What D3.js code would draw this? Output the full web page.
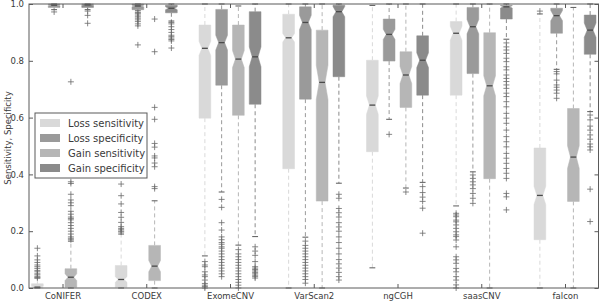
<!DOCTYPE html>
<html>
<head>
<meta charset="utf-8">
<script src="https://cdn.jsdelivr.net/npm/d3@7"></script>
<style>
  html, body { margin: 0; padding: 0; background: #fff; }
  svg { display: block; font-family: "DejaVu Sans", sans-serif; }
</style>
</head>
<body>
<div id="chart"></div>
<script>
// Methods along the x axis and the four series in each group
const methods = ["CoNIFER", "CODEX", "ExomeCNV", "VarScan2", "ngCGH", "saasCNV", "falcon"];
const seriesNames = ["Loss sensitivity", "Loss specificity", "Gain sensitivity", "Gain specificity"];
const seriesColors = ["#d9d9d9", "#9a9a9a", "#b6b6b6", "#8b8b8b"];
const yTicks = [0, 0.2, 0.4, 0.6, 0.8, 1.0];

// Box stats per method: [q1, median, q3, whiskerLow, whiskerHigh, notchHalf]
const lossSensStats = [
  [0.0, 0.003, 0.015, 0.0, 0.035, 0.003],
  [0.003, 0.03, 0.079, 0.0, 0.19, 0.01],
  [0.598, 0.844, 0.926, 0.113, 1.0, 0.025],
  [0.42, 0.881, 0.964, 0.0, 1.0, 0.015],
  [0.48, 0.644, 0.802, 0.071, 0.995, 0.032],
  [0.679, 0.897, 0.938, 0.289, 1.0, 0.025],
  [0.17, 0.326, 0.493, 0.0, 0.965, 0.032]
];
const lossSpecStats = [
  [0.988, 0.996, 1.0, 0.98, 1.0, 0.002],
  [0.98, 0.993, 1.0, 0.976, 1.0, 0.003],
  [0.714, 0.864, 0.981, 0.338, 1.0, 0.026],
  [0.665, 0.935, 0.99, 0.179, 1.0, 0.025],
  [0.799, 0.893, 0.947, 0.594, 1.0, 0.018],
  [0.755, 0.92, 0.988, 0.409, 1.0, 0.025],
  [0.897, 0.959, 0.985, 0.77, 1.0, 0.018]
];
const gainSensStats = [
  [0.003, 0.038, 0.068, 0.0, 0.165, 0.012],
  [0.026, 0.077, 0.15, 0.0, 0.307, 0.02],
  [0.608, 0.806, 0.926, 0.151, 0.993, 0.03],
  [0.306, 0.724, 0.908, 0.0, 1.0, 0.06],
  [0.636, 0.75, 0.832, 0.352, 1.0, 0.03],
  [0.385, 0.712, 0.899, 0.0, 1.0, 0.035],
  [0.305, 0.461, 0.632, 0.0, 0.988, 0.04]
];
const gainSpecStats = [
  [0.988, 0.997, 1.0, 0.98, 1.0, 0.002],
  [0.969, 0.985, 0.996, 0.94, 1.0, 0.005],
  [0.647, 0.814, 0.973, 0.181, 1.0, 0.035],
  [0.744, 0.973, 0.996, 0.369, 1.0, 0.018],
  [0.679, 0.802, 0.888, 0.372, 1.0, 0.026],
  [0.947, 0.99, 0.995, 0.876, 1.0, 0.004],
  [0.823, 0.908, 0.961, 0.621, 1.0, 0.025]
];

// Outliers per method
const lossSensFliers = [
  [0.036, 0.04, 0.046, 0.05, 0.057, 0.062, 0.069, 0.075, 0.081, 0.09, 0.099, 0.113, 0.14],
  [0.197, 0.2, 0.205, 0.21, 0.216, 0.231, 0.249, 0.266, 0.296, 0.325, 0.366],
  [0.093, 0.081, 0.075, 0.057, 0.046, 0.04, 0.028, 0.016, 0.01, 0.005, 0.0],
  [],
  [],
  [0.263, 0.257, 0.251, 0.239, 0.233, 0.222, 0.21, 0.198, 0.187, 0.181, 0.169, 0.145, 0.11, 0.099, 0.087, 0.069, 0.057, 0.04, 0.028, 0.011, 0.0],
  [0.975]
];
const lossSpecFliers = [
  [0.972],
  [0.97, 0.966, 0.961, 0.955, 0.95, 0.944, 0.938, 0.93, 0.923, 0.856],
  [0.312, 0.284, 0.23, 0.204, 0.18, 0.17, 0.16, 0.154, 0.145, 0.14, 0.13, 0.12, 0.11, 0.1, 0.09, 0.08, 0.07, 0.06, 0.05, 0.04],
  [0.165, 0.15, 0.14, 0.13, 0.12, 0.11, 0.1, 0.09, 0.08, 0.07, 0.06, 0.05, 0.04, 0.03, 0.017],
  [0.541],
  [0.398, 0.386, 0.374, 0.363, 0.35, 0.333, 0.316, 0.298],
  [0.762, 0.754, 0.732, 0.715, 0.707, 0.697, 0.686, 0.668]
];
const gainSensFliers = [
  [0.17, 0.175, 0.18, 0.19, 0.2, 0.21, 0.22, 0.23, 0.24, 0.245, 0.25, 0.26, 0.27, 0.29, 0.3, 0.31, 0.33, 0.368, 0.374, 0.726],
  [0.35, 0.357, 0.427, 0.44, 0.458, 0.465, 0.496, 0.509, 0.594, 0.636, 0.832, 0.947],
  [0.135, 0.12, 0.11, 0.1, 0.09, 0.08, 0.07, 0.06, 0.05, 0.04, 0.03, 0.02, 0.01, 0.0],
  [],
  [0.338],
  [],
  []
];
const gainSpecFliers = [
  [0.975, 0.96, 0.932],
  [0.935, 0.93, 0.92, 0.91, 0.9, 0.89, 0.885, 0.88, 0.875, 0.87, 0.845],
  [0.145, 0.13, 0.115, 0.093, 0.075, 0.07, 0.065, 0.06, 0.055, 0.05, 0.045, 0.04, 0.035],
  [0.33, 0.316, 0.28, 0.265, 0.25, 0.23, 0.215, 0.2, 0.18, 0.16, 0.14, 0.12, 0.1, 0.085, 0.07, 0.055, 0.04, 0.028],
  [0.357, 0.336, 0.32, 0.305, 0.281, 0.193],
  [0.863, 0.849, 0.838, 0.826, 0.809, 0.797, 0.779, 0.768, 0.75, 0.738, 0.727, 0.715, 0.703, 0.686, 0.674, 0.656, 0.638, 0.615, 0.598, 0.58, 0.556, 0.533, 0.515, 0.497, 0.474, 0.457, 0.439, 0.421, 0.404, 0.386, 0.333, 0.321, 0.275],
  [0.609, 0.592, 0.57, 0.556, 0.539, 0.524, 0.507, 0.497, 0.486, 0.348, 0.234]
];

const allStats = [lossSensStats, lossSpecStats, gainSensStats, gainSpecStats];
const allFliers = [lossSensFliers, lossSpecFliers, gainSensFliers, gainSpecFliers];

const width = 600, height = 305;
const margin = {top: 4, right: 1.5, bottom: 17, left: 29};
const boxWidth = 0.7; // in position units

const svg = d3.select("#chart").append("svg")
  .attr("width", width)
  .attr("height", height);

// Positions: group g, series s -> 5g + s + 1
const x = d3.scaleLinear()
  .domain([0.5, 34.5])
  .range([margin.left, width - margin.right]);
const y = d3.scaleLinear()
  .domain([0, 1])
  .range([height - margin.bottom, margin.top]);

const boxes = [];
methods.forEach((m, g) => {
  seriesNames.forEach((name, s) => {
    const [q1, med, q3, lo, hi, ci] = allStats[s][g];
    boxes.push({g, s, pos: g * 5 + s + 1, q1, med, q3, lo, hi, ci, fliers: allFliers[s][g], color: seriesColors[s]});
  });
});

const plot = svg.append("g");
const halfW = (x(boxWidth) - x(0)) / 2;

// Whiskers
boxes.forEach(b => {
  const cx = x(b.pos);
  [[b.q1, b.lo], [b.q3, b.hi]].forEach(([a, c]) => {
    plot.append("line")
      .attr("x1", cx).attr("x2", cx)
      .attr("y1", y(a)).attr("y2", y(c))
      .attr("stroke", b.color)
      .attr("stroke-width", 1)
      .attr("stroke-dasharray", "4,3");
  });
});

// Notched boxes
const line = d3.line();
boxes.forEach(b => {
  const cx = x(b.pos);
  const l = cx - halfW, r = cx + halfW;
  const nl = cx - halfW / 2, nr = cx + halfW / 2;
  const ciLo = b.med - b.ci, ciHi = b.med + b.ci;
  const pts = [
    [l, y(b.q1)], [r, y(b.q1)], [r, y(ciLo)], [nr, y(b.med)], [r, y(ciHi)],
    [r, y(b.q3)], [l, y(b.q3)], [l, y(ciHi)], [nl, y(b.med)], [l, y(ciLo)]
  ];
  plot.append("path")
    .attr("d", line(pts) + "Z")
    .attr("fill", b.color)
    .attr("stroke", b.color)
    .attr("stroke-width", 0.5);

  plot.append("line")
    .attr("x1", nl).attr("x2", nr)
    .attr("y1", y(b.med)).attr("y2", y(b.med))
    .attr("stroke", "#4a4a4a")
    .attr("stroke-width", 1.3);
});

// Caps
boxes.forEach(b => {
  const cx = x(b.pos);
  [b.lo, b.hi].forEach(v => {
    plot.append("line")
      .attr("x1", cx - halfW / 2).attr("x2", cx + halfW / 2)
      .attr("y1", y(v)).attr("y2", y(v))
      .attr("stroke", "#5a5a5a")
      .attr("stroke-width", 1);
  });
});

// Fliers as "+"
boxes.forEach(b => {
  const cx = x(b.pos);
  b.fliers.forEach(v => {
    const cy = y(v);
    plot.append("path")
      .attr("d", `M${cx - 3},${cy}H${cx + 3}M${cx},${cy - 3}V${cy + 3}`)
      .attr("stroke", "#6a6a6a")
      .attr("stroke-width", 0.8)
      .attr("fill", "none");
  });
});

// Frame
const axisColor = "#5a5a5a";
svg.append("rect")
  .attr("x", margin.left).attr("y", margin.top)
  .attr("width", width - margin.right - margin.left)
  .attr("height", height - margin.bottom - margin.top)
  .attr("fill", "none")
  .attr("stroke", axisColor)
  .attr("stroke-width", 1);

// Axes with inward ticks
const groupTicks = methods.map((m, g) => g * 5 + 2.5);
const xBottom = d3.axisBottom(x).tickValues(groupTicks)
  .tickFormat((d, i) => methods[i]).tickSizeInner(-4).tickSizeOuter(0).tickPadding(5);
const xTop = d3.axisTop(x).tickValues(groupTicks)
  .tickFormat("").tickSizeInner(-4).tickSizeOuter(0);
const yLeft = d3.axisLeft(y).tickValues(yTicks)
  .tickFormat(d3.format(".1f")).tickSizeInner(-4).tickSizeOuter(0).tickPadding(5);
const yRight = d3.axisRight(y).tickValues(yTicks)
  .tickFormat("").tickSizeInner(-4).tickSizeOuter(0);

function styleAxis(g) {
  g.select(".domain").remove();
  g.selectAll(".tick line").attr("stroke", axisColor);
  g.selectAll(".tick text")
    .attr("fill", "#3a3a3a")
    .attr("font-size", 8.5)
    .attr("font-family", "DejaVu Sans, sans-serif");
}

svg.append("g").attr("transform", `translate(0,${y(0)})`).call(xBottom).call(styleAxis);
svg.append("g").attr("transform", `translate(0,${y(1)})`).call(xTop).call(styleAxis);
svg.append("g").attr("transform", `translate(${margin.left},0)`).call(yLeft).call(styleAxis);
svg.append("g").attr("transform", `translate(${width - margin.right},0)`).call(yRight).call(styleAxis);

// Y label
svg.append("text")
  .attr("transform", "translate(11,138) rotate(-90)")
  .attr("text-anchor", "middle")
  .attr("font-size", 8.5)
  .attr("fill", "#3a3a3a")
  .text("Sensitivity, Specificity");

// Legend
const legend = svg.append("g").attr("transform", "translate(35,113)");
legend.append("rect")
  .attr("width", 112).attr("height", 65)
  .attr("fill", "#fff")
  .attr("stroke", "#5a5a5a")
  .attr("stroke-width", 1);
seriesNames.forEach((name, i) => {
  const row = legend.append("g").attr("transform", `translate(0,${10 + i * 15})`);
  row.append("rect")
    .attr("x", 5).attr("y", -4)
    .attr("width", 20).attr("height", 8)
    .attr("fill", seriesColors[i]);
  row.append("text")
    .attr("x", 33).attr("y", 0)
    .attr("dy", "0.35em")
    .attr("font-size", 10)
    .attr("fill", "#3a3a3a")
    .text(name);
});
</script>
</body>
</html>
